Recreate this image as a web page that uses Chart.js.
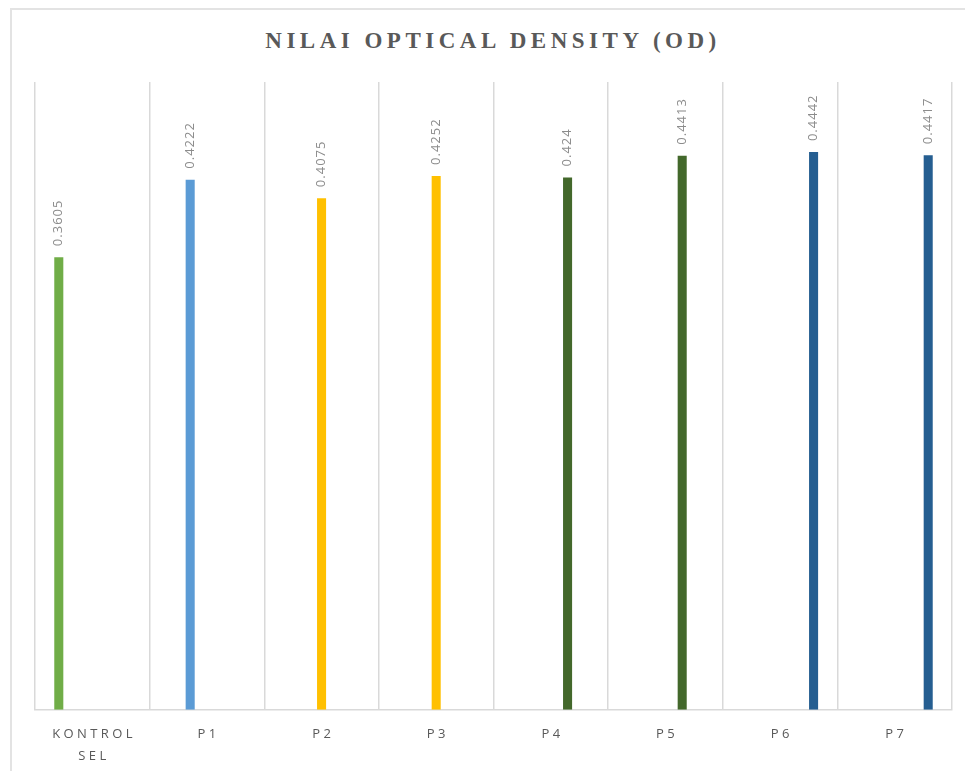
<!DOCTYPE html>
<html>
<head>
<meta charset="utf-8">
<script src="https://cdn.jsdelivr.net/npm/chart.js@4/dist/chart.umd.min.js"></script>
<style>
    html, body { margin: 0; padding: 0; background: #fff; }
    #wrap { position: relative; width: 965px; height: 771px; overflow: hidden; }
    #frame { position: absolute; left: 10px; top: 8px; width: 1000px; height: 800px;
             border-top: 2px solid #e3e3e3; border-left: 2px solid #e3e3e3; }
    #title { position: absolute; left: 193px; width: 600px; top: 28px; text-align: center;
             font: bold 23px "Liberation Serif", serif; color: #595959; letter-spacing: 4.5px; }
    canvas { position: absolute; left: 0; top: 0; }
</style>
</head>
<body>
<div id="wrap">
    <div id="frame"></div>
    <div id="title">NILAI OPTICAL DENSITY (OD)</div>
    <canvas id="myChart" width="965" height="785"></canvas>
</div>
<script>
var categories = [['K O N T R O L', 'S E L'], 'P 1', 'P 2', 'P 3', 'P 4', 'P 5', 'P 6', 'P 7'];
var kontrolSel = [0.3605, null, null, null, null, null, null, null];
var seriesP1 = [null, 0.4222, null, null, null, null, null, null];
var seriesP2P3 = [null, null, 0.4075, 0.4252, null, null, null, null];
var seriesP4P5 = [null, null, null, null, 0.424, 0.4413, null, null];
var seriesP6P7 = [null, null, null, null, null, null, 0.4442, 0.4417];

document.addEventListener('DOMContentLoaded', function() {
    "use strict";

    /*value labels, rotated like the Excel ones*/
    var barLabels = {
        id: 'barLabels',
        afterDatasetsDraw: function(chart) {
            var ctx = chart.ctx;
            ctx.save();
            ctx.font = '13px "Open Sans", sans-serif';
            ctx.fillStyle = '#8c8c8c';
            ctx.letterSpacing = '1px';
            ctx.textAlign = 'left';
            ctx.textBaseline = 'middle';
            chart.data.datasets.forEach(function(ds, i) {
                var meta = chart.getDatasetMeta(i);
                meta.data.forEach(function(bar, j) {
                    if (ds.data[j] === null) return;
                    ctx.save();
                    ctx.translate(bar.x, bar.y - 11);
                    ctx.rotate(-Math.PI / 2);
                    ctx.fillText(String(ds.data[j]), 0, 0);
                    ctx.restore();
                });
            });
            ctx.restore();
        }
    };

    var ctx = document.getElementById('myChart').getContext('2d');
    new Chart(ctx, {
        type: 'bar',
        data: {
            labels: categories,
            datasets: [
                { label: 'Kontrol Sel', data: kontrolSel, backgroundColor: '#70ad47' },
                { label: 'P1', data: seriesP1, backgroundColor: '#5b9bd5' },
                { label: 'P2-P3', data: seriesP2P3, backgroundColor: '#ffc000' },
                { label: 'P4-P5', data: seriesP4P5, backgroundColor: '#43682b' },
                { label: 'P6-P7', data: seriesP6P7, backgroundColor: '#255e91' }
            ]
        },
        options: {
            responsive: false,
            animation: false,
            categoryPercentage: 0.731,
            barPercentage: 0.54,
            layout: { padding: { left: 35, right: 13, top: 82, bottom: 5 } },
            plugins: {
                legend: { display: false },
                tooltip: { enabled: false }
            },
            scales: {
                x: {
                    grid: { color: '#d9d9d9', lineWidth: 1.5, drawTicks: false },
                    border: { color: '#d9d9d9', width: 1.5 },
                    ticks: {
                        padding: 13,
                        color: '#595959',
                        font: { family: '"Open Sans", sans-serif', size: 13, lineHeight: 1.7 },
                        maxRotation: 0,
                        autoSkip: false
                    }
                },
                y: {
                    display: false,
                    min: 0,
                    max: 0.5
                }
            }
        },
        plugins: [barLabels]
    });
});
</script>
</body>
</html>
